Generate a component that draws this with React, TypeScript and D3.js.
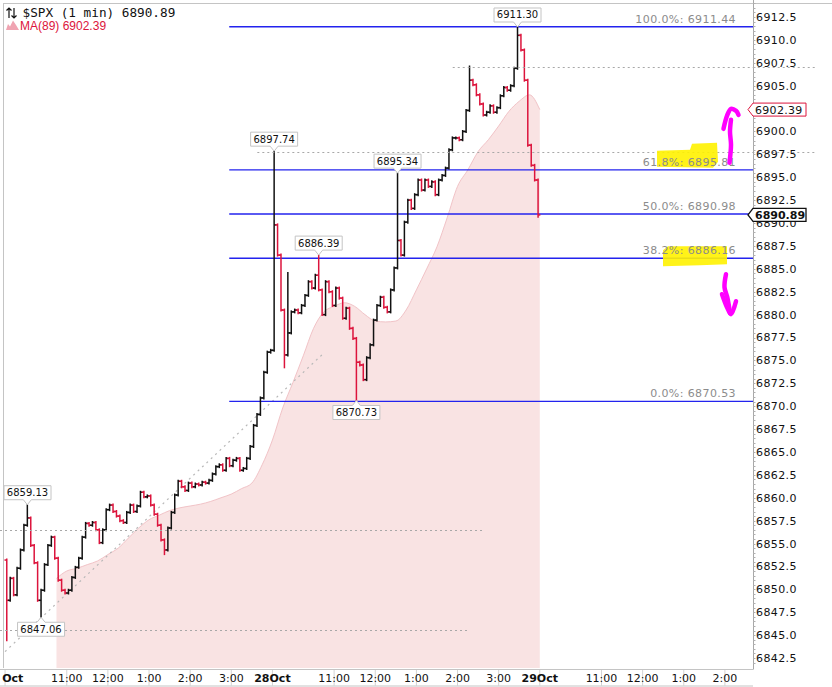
import React, { useEffect, useRef } from "react";
import * as d3 from "d3";

const width = 832;
const height = 687;

// 5-minute closes (27 Oct and 28 Oct sessions)
const firstOpen = 6853.2;
const oct27Close = [
  6848.8, 6851.2, 6849.4, 6852.3, 6854.3, 6857.0, 6857.8, 6854.8, 6852.9, 6848.8,
  6849.9, 6852.7, 6854.8, 6855.7, 6853.4, 6851.0, 6849.9, 6849.6, 6849.9, 6851.3,
  6852.4, 6853.4, 6855.7, 6857.2, 6857.0, 6857.3, 6856.5, 6855.1, 6856.5, 6858.7,
  6859.2, 6858.5, 6858.0, 6857.5, 6857.3, 6858.4, 6859.2, 6858.5, 6859.1, 6860.6,
  6860.1, 6860.2, 6859.2, 6858.2, 6857.0, 6855.4, 6854.3, 6856.7, 6858.4, 6860.3,
  6861.8, 6861.2, 6860.8, 6861.6, 6861.2, 6861.5, 6861.4, 6861.7, 6861.6, 6861.9,
  6862.6, 6863.4, 6863.6, 6863.0, 6864.3, 6863.5, 6864.1, 6864.3, 6863.0, 6863.2,
  6864.3, 6865.6, 6867.9, 6869.1, 6870.9, 6873.7, 6875.9, 6876.1,
];
const oct28Close = [
  6889.8, 6886.5, 6880.5, 6875.6, 6878.0, 6880.3, 6880.5, 6880.2, 6881.0, 6882.1,
  6883.6, 6882.9, 6884.3, 6882.7, 6880.0, 6883.6, 6882.5, 6881.0, 6882.9, 6881.8,
  6879.6, 6880.7, 6878.5, 6877.4, 6874.8, 6874.5, 6872.9, 6875.3, 6876.7, 6879.4,
  6881.0, 6881.9, 6880.8, 6880.3, 6882.7, 6885.1, 6888.1, 6886.5, 6890.1, 6892.5,
  6891.6, 6893.1, 6894.7, 6893.6, 6894.7, 6894.0, 6894.5, 6893.1, 6894.7, 6895.2,
  6896.0, 6898.0, 6899.3, 6899.3, 6899.1, 6900.0, 6902.3, 6905.6, 6905.1, 6904.0,
  6903.0, 6901.8, 6902.1, 6902.8, 6902.1, 6902.6, 6903.9, 6904.8, 6904.5, 6905.0,
  6906.9, 6910.5, 6908.9, 6905.6, 6898.5, 6896.3, 6894.7, 6890.89,
];

// long wicks (bar index over both sessions); tagged ones get a price box
const spikes = [
  { bar: 0, side: "low", value: 6844.5, tag: false },
  { bar: 6, side: "high", value: 6859.13, tag: true },
  { bar: 10, side: "low", value: 6847.06, tag: true },
  { bar: 46, side: "low", value: 6853.9, tag: false },
  { bar: 78, side: "high", value: 6897.74, tag: true },
  { bar: 81, side: "low", value: 6874.3, tag: false },
  { bar: 82, side: "high", value: 6884.5, tag: false },
  { bar: 91, side: "high", value: 6886.39, tag: true },
  { bar: 102, side: "low", value: 6870.73, tag: true },
  { bar: 114, side: "high", value: 6895.34, tag: true },
  { bar: 135, side: "high", value: 6907.04, tag: false },
  { bar: 149, side: "high", value: 6911.3, tag: true },
  { bar: 155, side: "low", value: 6890.75, tag: false },
];

// MA(89), sampled every 15 minutes
const maFirstMinute = 75;
const maStepMinutes = 15;
const ma89 = [
  6851.2, 6852.0, 6852.3, 6852.7, 6853.1, 6853.8, 6854.5, 6855.6, 6856.7, 6857.6,
  6858.1, 6858.6, 6858.9, 6859.1, 6859.3, 6859.6, 6860.0, 6860.4, 6861.0, 6861.6,
  6863.6, 6866.3, 6869.8, 6872.6, 6875.5, 6878.5, 6880.3, 6880.9, 6881.3, 6880.9,
  6880.0, 6879.3, 6879.2, 6879.3, 6880.5, 6882.7, 6885.0, 6887.4, 6890.6, 6894.0,
  6895.8, 6897.8, 6899.1, 6900.6, 6902.2, 6903.3, 6904.0, 6902.39,
];

const fibLevels = [
  { pct: "100.0%", value: 6911.44 },
  { pct: "61.8%", value: 6895.81 },
  { pct: "50.0%", value: 6890.98 },
  { pct: "38.2%", value: 6886.16 },
  { pct: "0.0%", value: 6870.53 },
];
const fibStartMinute = 327;

const dottedLevels = [
  { value: 6856.48, from: -10, to: 697 },
  { value: 6845.56, from: -10, to: 674 },
  { value: 6897.74, from: 368, to: 1184 },
  { value: 6907.04, from: 653, to: 1184 },
];
const trendLine = [
  { minute: 0, value: 6843.2 },
  { minute: 465, value: 6875.8 },
];

const timeTicks = [
  { minute: 0, label: "27Oct", day: true },
  { minute: 90, label: "11:00" },
  { minute: 150, label: "12:00" },
  { minute: 210, label: "1:00" },
  { minute: 270, label: "2:00" },
  { minute: 330, label: "3:00" },
  { minute: 390, label: "28Oct", day: true },
  { minute: 480, label: "11:00" },
  { minute: 540, label: "12:00" },
  { minute: 600, label: "1:00" },
  { minute: 660, label: "2:00" },
  { minute: 720, label: "3:00" },
  { minute: 780, label: "29Oct", day: true },
  { minute: 870, label: "11:00" },
  { minute: 930, label: "12:00" },
  { minute: 990, label: "1:00" },
  { minute: 1050, label: "2:00" },
];

const lastPrice = 6890.89;
const lastMa = 6902.39;

export default function App() {
  const svgRef = useRef(null);

  useEffect(() => {
    const svg = d3.select(svgRef.current);
    svg.selectAll("*").remove();

    const plot = { left: 3, right: 753, top: 3, bottom: 668 };
    const x = d3.scaleLinear().domain([-3, 1091]).range([plot.left, plot.right]);
    const y = d3.scaleLinear().domain([6841.41, 6914.03]).range([plot.bottom, plot.top]);

    svg.append("rect").attr("width", width).attr("height", height).attr("fill", "#fff");

    const defs = svg.append("defs");
    defs
      .append("clipPath")
      .attr("id", "plotClip")
      .append("rect")
      .attr("x", plot.left)
      .attr("y", plot.top)
      .attr("width", plot.right - plot.left)
      .attr("height", plot.bottom - plot.top);
    defs
      .append("clipPath")
      .attr("id", "axisClip")
      .append("rect")
      .attr("x", 2)
      .attr("y", 669)
      .attr("width", plot.right - 2)
      .attr("height", 18);

    const g = svg.append("g").attr("clip-path", "url(#plotClip)");

    // MA(89) area
    const maPts = ma89.map((v, k) => ({ minute: maFirstMinute + k * maStepMinutes, value: v }));
    g.append("path")
      .datum(maPts)
      .attr("fill", "#f9e3e3")
      .attr(
        "d",
        d3
          .area<any>()
          .x((d) => x(d.minute))
          .y0(plot.bottom)
          .y1((d) => y(d.value))
          .curve(d3.curveMonotoneX)
      );
    g.append("path")
      .datum(maPts)
      .attr("fill", "none")
      .attr("stroke", "#f1c3c7")
      .attr("stroke-width", 1)
      .attr(
        "d",
        d3
          .line<any>()
          .x((d) => x(d.minute))
          .y((d) => y(d.value))
          .curve(d3.curveMonotoneX)
      );

    // trend line
    g.append("path")
      .datum(trendLine)
      .attr("fill", "none")
      .attr("stroke", "#b8b8b8")
      .attr("stroke-width", 1.2)
      .attr("stroke-dasharray", "2,4")
      .attr(
        "d",
        d3
          .line<any>()
          .x((d) => x(d.minute))
          .y((d) => y(d.value))
      );

    // dotted price levels
    svg
      .append("g")
      .selectAll("line")
      .data(dottedLevels)
      .enter()
      .append("line")
      .attr("x1", (d) => Math.max(0, x(d.from)))
      .attr("x2", (d) => x(d.to))
      .attr("y1", (d) => Math.round(y(d.value)) + 0.5)
      .attr("y2", (d) => Math.round(y(d.value)) + 0.5)
      .attr("stroke", "#a8a8a8")
      .attr("stroke-dasharray", "2,3");

    // fib lines
    g.selectAll(".fib")
      .data(fibLevels)
      .enter()
      .append("line")
      .attr("x1", x(fibStartMinute))
      .attr("x2", plot.right)
      .attr("y1", (d) => y(d.value))
      .attr("y2", (d) => y(d.value))
      .attr("stroke", "#2323ee")
      .attr("stroke-width", 1.4);

    // highlighter marks
    const f618 = y(6895.81);
    const f382 = y(6886.16);
    const hl = svg.append("g").attr("fill", "#fff200").attr("opacity", 0.9);
    hl.append("path").attr(
      "d",
      `M657,${f618 - 3} L657,${f618 - 19} L690,${f618 - 20} L692,${f618 - 26} L717,${f618 - 27} L718,${f618 - 8} L713,${f618 - 2} Z`
    );
    hl.append("path").attr(
      "d",
      `M663,${f382 + 8} L663,${f382 - 8} L668,${f382 - 12} L727,${f382 - 12} L727,${f382 + 6} L700,${f382 + 7} Z`
    );

    // fib labels
    svg
      .append("g")
      .selectAll("text")
      .data(fibLevels)
      .enter()
      .append("text")
      .attr("x", 736)
      .attr("y", (d) => y(d.value) - 4)
      .attr("text-anchor", "end")
      .attr("font-family", "DejaVu Sans")
      .attr("font-size", 11)
      .attr("letter-spacing", 0.4)
      .attr("fill", "#8c8c8c")
      .text((d) => `${d.pct}: ${d.value.toFixed(2)}`);

    // OHLC bars
    const closes = [...oct27Close, ...oct28Close];
    const bars = closes.map((c, i) => {
      const open = i === 0 ? firstOpen : closes[i - 1];
      let high = Math.max(open, c);
      let low = Math.min(open, c);
      spikes
        .filter((s) => s.bar === i)
        .forEach((s) => {
          if (s.side === "high") high = Math.max(high, s.value);
          else low = Math.min(low, s.value);
        });
      return { minute: 5 * i + 2.5, open, close: c, high, low };
    });
    const colorOf = (b) => (b.close >= b.open ? "#111" : "#dc143c");
    const barG = g.append("g").attr("stroke-width", 1.5);
    const bar = barG.selectAll("g").data(bars).enter().append("g").attr("stroke", colorOf);
    bar
      .append("line")
      .attr("x1", (d) => x(d.minute))
      .attr("x2", (d) => x(d.minute))
      .attr("y1", (d) => y(d.high) - 1.5)
      .attr("y2", (d) => y(d.low) + 1.5);
    bar
      .append("line")
      .attr("x1", (d) => x(d.minute) - 2.3)
      .attr("x2", (d) => x(d.minute))
      .attr("y1", (d) => y(d.open))
      .attr("y2", (d) => y(d.open));
    bar
      .append("line")
      .attr("x1", (d) => x(d.minute))
      .attr("x2", (d) => x(d.minute) + 2.3)
      .attr("y1", (d) => y(d.close))
      .attr("y2", (d) => y(d.close));

    // price boxes on highs and lows
    const tags = spikes.filter((s) => s.tag);
    const boxW = 47;
    const boxH = 14;
    tags.forEach((s) => {
      const cx = x(5 * s.bar + 2.5);
      const py = y(s.value);
      const bx = Math.max(4, cx - boxW / 2);
      const tg = svg.append("g");
      let d;
      let top;
      if (s.side === "high") {
        const bottom = py - 6;
        top = bottom - boxH;
        d = `M${bx},${top} H${bx + boxW} V${bottom} H${cx + 4} L${cx},${bottom + 5} L${cx - 4},${bottom} H${bx} Z`;
      } else {
        top = py + 6;
        const bottom = top + boxH;
        d = `M${bx},${top} H${cx - 4} L${cx},${top - 5} L${cx + 4},${top} H${bx + boxW} V${bottom} H${bx} Z`;
      }
      tg.append("path").attr("d", d).attr("fill", "#fff").attr("stroke", "#c4c4c4");
      tg.append("text")
        .attr("x", bx + boxW / 2)
        .attr("y", top + boxH / 2)
        .attr("dy", "0.35em")
        .attr("text-anchor", "middle")
        .attr("font-family", "DejaVu Sans")
        .attr("font-size", 10)
        .attr("fill", "#111")
        .text(s.value.toFixed(2));
    });

    // frame
    const frame = svg.append("g").attr("stroke", "#c4c4c4").attr("fill", "none");
    frame.append("line").attr("x1", plot.left).attr("x2", width).attr("y1", 3.5).attr("y2", 3.5);
    frame.append("line").attr("x1", 3.5).attr("x2", 3.5).attr("y1", 3.5).attr("y2", plot.bottom);
    frame.append("line").attr("x1", 0).attr("x2", plot.right).attr("y1", 669.5).attr("y2", 669.5);
    frame.append("line").attr("x1", 0).attr("x2", plot.right).attr("y1", 686).attr("y2", 686);
    frame
      .append("line")
      .attr("x1", plot.right + 0.5)
      .attr("x2", plot.right + 0.5)
      .attr("y1", 0)
      .attr("y2", 669.5)
      .attr("stroke", "#a8a8a8");

    // right price axis
    const yAxis = svg.append("g");
    yAxis
      .selectAll("line")
      .data(d3.range(6842, 6914.01, 0.5))
      .enter()
      .append("line")
      .attr("x1", plot.right)
      .attr("x2", plot.right + 2.5)
      .attr("y1", (d) => Math.round(y(d)) + 0.5)
      .attr("y2", (d) => Math.round(y(d)) + 0.5)
      .attr("stroke", "#b0b0b0");
    yAxis
      .selectAll("text")
      .data(d3.range(6842.5, 6915.01, 2.5))
      .enter()
      .append("text")
      .attr("x", 756)
      .attr("y", (d) => y(d))
      .attr("dy", "0.36em")
      .attr("font-family", "DejaVu Sans")
      .attr("font-size", 11)
      .attr("letter-spacing", 0.4)
      .attr("fill", "#111")
      .text((d) => d.toFixed(1));

    // bottom time axis
    const xAxis = svg.append("g").attr("clip-path", "url(#axisClip)");
    xAxis
      .selectAll("line")
      .data(timeTicks)
      .enter()
      .append("line")
      .attr("x1", (d) => x(d.minute))
      .attr("x2", (d) => x(d.minute))
      .attr("y1", 670)
      .attr("y2", 686)
      .attr("stroke", "#d4d4d4");
    xAxis
      .selectAll("text")
      .data(timeTicks)
      .enter()
      .append("text")
      .attr("x", (d) => x(d.minute))
      .attr("y", 678)
      .attr("dy", "0.36em")
      .attr("text-anchor", "middle")
      .attr("font-family", "DejaVu Sans")
      .attr("font-size", 11)
      .attr("font-weight", (d) => (d.day ? "bold" : "normal"))
      .attr("fill", "#111")
      .text((d) => d.label);

    // header
    const head = svg.append("g");
    const arrows = head.append("g").attr("stroke", "#111").attr("stroke-width", 1.2).attr("fill", "none");
    arrows.append("path").attr("d", "M9,18 V8 M6.5,10.5 L9,8 L11.5,10.5");
    arrows.append("path").attr("d", "M14,8 V18 M11.5,15.5 L14,18 L16.5,15.5");
    head
      .append("text")
      .attr("x", 22.5)
      .attr("y", 17)
      .attr("font-family", "DejaVu Sans Mono")
      .attr("font-size", 12.7)
      .attr("fill", "#111")
      .text(`$SPX (1 min) ${lastPrice.toFixed(2)}`);
    head
      .append("path")
      .attr("d", "M6,30 L8,24 L10,26.5 L13,20.5 L16,25 L19,30 Z")
      .attr("fill", "#f0a4b2");
    head
      .append("text")
      .attr("x", 20)
      .attr("y", 29.5)
      .attr("font-family", "Liberation Sans")
      .attr("font-size", 12)
      .attr("fill", "#dc143c")
      .text(`MA(89) ${lastMa.toFixed(2)}`);

    // hand drawn arrows
    const pen = d3.line<[number, number]>().curve(d3.curveCatmullRom);
    const ink = svg
      .append("g")
      .attr("fill", "none")
      .attr("stroke", "#ff00ff")
      .attr("stroke-width", 4.5)
      .attr("stroke-linecap", "round")
      .attr("stroke-linejoin", "round");
    ink.append("path").attr(
      "d",
      pen([
        [729.5, f618 - 7],
        [731, f618 - 25],
        [730, f618 - 38],
        [731, f618 - 50],
      ])
    );
    ink.append("path").attr(
      "d",
      pen([
        [723.5, f618 - 41],
        [727, f618 - 54],
        [731, f618 - 61],
        [736, f618 - 59],
        [738.5, f618 - 55],
      ])
    );
    ink.append("path").attr(
      "d",
      pen([
        [726, f382 + 16],
        [724.5, f382 + 29],
        [727.5, f382 + 40],
        [730, f382 + 55],
      ])
    );
    ink.append("path").attr(
      "d",
      pen([
        [722, f382 + 36],
        [727, f382 + 49],
        [731, f382 + 56],
        [736, f382 + 43],
      ])
    );

    // last value boxes on the axis
    const valueBox = (v, stroke, bold) => {
      const cy = y(v);
      const bg = svg.append("g");
      bg.append("path")
        .attr("d", `M748,${cy} L753,${cy - 6.5} H806 V${cy + 6.5} H753 Z`)
        .attr("fill", "#fff")
        .attr("stroke", stroke)
        .attr("stroke-width", bold ? 1.3 : 1);
      bg.append("text")
        .attr("x", 755)
        .attr("y", cy)
        .attr("dy", "0.36em")
        .attr("font-family", "DejaVu Sans")
        .attr("font-size", 11)
        .attr("font-weight", bold ? "bold" : "normal")
        .attr("letter-spacing", bold ? 0 : 0.3)
        .attr("fill", "#111")
        .text(v.toFixed(2));
    };
    valueBox(lastMa, "#dc143c", false);
    valueBox(lastPrice, "#111", true);
  }, []);

  return (
    <svg
      ref={svgRef}
      width={width}
      height={height}
      style={{ position: "absolute", left: 0, top: 0 }}
    ></svg>
  );
}
